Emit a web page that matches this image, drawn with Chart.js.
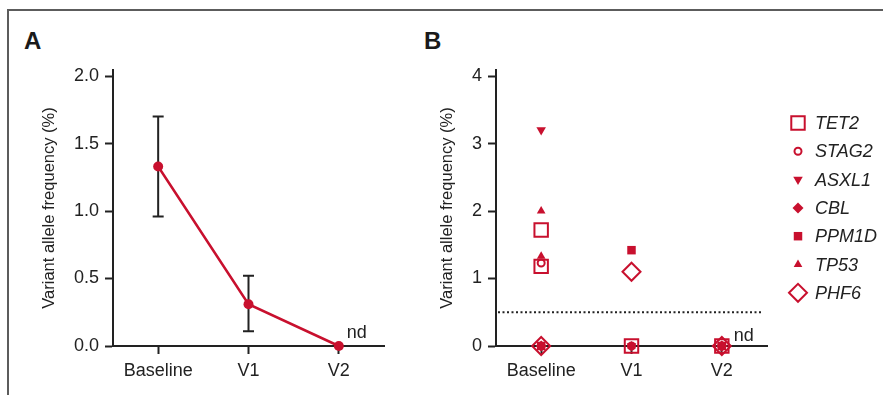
<!DOCTYPE html>
<html>
<head>
<meta charset="utf-8">
<script src="https://cdn.jsdelivr.net/npm/chart.js@4"></script>
<style>
  body { margin: 0; background: #fff; width: 883px; height: 395px; overflow: hidden; position: relative; font-family: "Liberation Sans", Arial, sans-serif; }
  .frame { position: absolute; left: 7px; top: 9px; width: 900px; height: 400px; border-top: 2px solid #5c5c5c; border-left: 2px solid #5c5c5c; }
  .letter { position: absolute; font-weight: bold; font-size: 24px; color: #1a1a1a; }
  canvas { position: absolute; top: 0; }
</style>
</head>
<body>
<div class="frame"></div>
<div class="letter" style="left:24px; top:27px;">A</div>
<div class="letter" style="left:424px; top:27px;">B</div>
<canvas id="chartA" width="420" height="395" style="left:0"></canvas>
<canvas id="chartB" width="463" height="395" style="left:420px"></canvas>
<script>
// ===================
// Dados
// ===================
const timepoints = ["Baseline", "V1", "V2"];

// Painel A: média da VAF com barras de erro
const meanVaf = [1.33, 0.31, 0];
const errLow = [0.96, 0.11, null];
const errHigh = [1.7, 0.52, null];
const ticksA = [0, 0.5, 1, 1.5, 2];

// Painel B: VAF por gene (uma lista por timepoint, pode ter mais de um valor)
const geneNames = ["TET2", "STAG2", "ASXL1", "CBL", "PPM1D", "TP53", "PHF6"];
const tet2 = [[1.72, 1.18], [0], [0]];
const stag2 = [[1.23], [0], [0]];
const asxl1 = [[3.2], [0], [0]];
const cbl = [[0], [], [0]];
const ppm1d = [[0], [1.42], [0]];
const tp53 = [[2.0, 1.33], [0], [0]];
const phf6 = [[0], [1.1], [0]];
const geneValues = [tet2, stag2, asxl1, cbl, ppm1d, tp53, phf6];
const ticksB = [0, 1, 2, 3, 4];
const threshold = 0.5;

// ===================
// Estilos
// ===================
const RED = "#c8102e";
const INK = "#222";
const FONT = "'Liberation Sans', Arial, sans-serif";

const geneStyles = [
  { pointStyle: "rect", radius: 9.5, filled: false, rotation: 0 },
  { pointStyle: "circle", radius: 3.5, filled: false, rotation: 0 },
  { pointStyle: "triangle", radius: 5.5, filled: true, rotation: 180 },
  { pointStyle: "rectRot", radius: 5.5, filled: true, rotation: 0 },
  { pointStyle: "rect", radius: 6, filled: true, rotation: 0 },
  { pointStyle: "triangle", radius: 5, filled: true, rotation: 0 },
  { pointStyle: "rectRot", radius: 9, filled: false, rotation: 0 },
];

function axisOptions(ticks, decimals, fitWidth) {
  return {
    x: {
      type: "category",
      offset: true,
      grid: { offset: false, drawOnChartArea: false, drawTicks: true, tickLength: 8, tickColor: INK, tickWidth: 2 },
      border: { display: true, color: INK, width: 2 },
      ticks: { color: INK, font: { family: FONT, size: 18 }, padding: 6, maxRotation: 0 },
      afterFit: (s) => { s.height = 49; },
    },
    y: {
      min: 0,
      max: ticks[ticks.length - 1] * 1.0225,
      grid: { drawOnChartArea: false, drawTicks: true, tickLength: 8, tickColor: INK, tickWidth: 2 },
      border: { display: true, color: INK, width: 2 },
      ticks: {
        color: INK,
        font: { family: FONT, size: 18 },
        padding: 6,
        callback: (v) => v.toFixed(decimals),
      },
      afterBuildTicks: (s) => { s.ticks = ticks.map((v) => ({ value: v })); },
      title: {
        display: true,
        text: "Variant allele frequency (%)",
        color: INK,
        font: { family: FONT, size: 16.5 },
      },
      afterFit: (s) => { s.width = fitWidth; },
    },
  };
}

// "nd" ao lado do ponto V2
function ndLabel(dx, dy) {
  return {
    id: "ndLabel",
    afterDatasetsDraw(chart) {
      const ctx = chart.ctx;
      const x = chart.scales.x.getPixelForValue(2);
      const y = chart.scales.y.getPixelForValue(0);
      ctx.save();
      ctx.fillStyle = INK;
      ctx.font = "18px " + FONT;
      ctx.textBaseline = "alphabetic";
      ctx.fillText("nd", x + dx, y - dy);
      ctx.restore();
    },
  };
}

// ===================
// Painel A
// ===================
const errorBars = {
  id: "errorBars",
  beforeDatasetsDraw(chart) {
    const ctx = chart.ctx;
    const xs = chart.scales.x, ys = chart.scales.y;
    ctx.save();
    ctx.strokeStyle = INK;
    ctx.lineWidth = 2;
    errLow.forEach((lo, i) => {
      if (lo === null) return;
      const x = xs.getPixelForValue(i);
      const y1 = ys.getPixelForValue(lo);
      const y2 = ys.getPixelForValue(errHigh[i]);
      ctx.beginPath();
      ctx.moveTo(x, y1); ctx.lineTo(x, y2);
      ctx.moveTo(x - 5.5, y1); ctx.lineTo(x + 5.5, y1);
      ctx.moveTo(x - 5.5, y2); ctx.lineTo(x + 5.5, y2);
      ctx.stroke();
    });
    ctx.restore();
  },
};

new Chart(document.getElementById("chartA"), {
  type: "line",
  data: {
    labels: timepoints,
    datasets: [
      {
        label: "VAF",
        data: meanVaf,
        borderColor: RED,
        backgroundColor: RED,
        borderWidth: 2.5,
        pointRadius: 5,
        pointBorderWidth: 0,
        clip: false,
      },
    ],
  },
  options: {
    responsive: false,
    animation: false,
    layout: { padding: { left: 36, top: 70, right: 36, bottom: 0 } },
    plugins: { legend: { display: false }, tooltip: { enabled: false } },
    scales: axisOptions(ticksA, 1, 77),
  },
  plugins: [errorBars, ndLabel(8, 8)],
});

// ===================
// Painel B
// ===================
const geneDatasets = geneNames.map((name, g) => {
  const st = geneStyles[g];
  const points = [];
  geneValues[g].forEach((vals, t) => {
    vals.forEach((v) => points.push({ x: timepoints[t], y: v }));
  });
  return {
    label: name,
    data: points,
    showLine: false,
    clip: false,
    pointStyle: st.pointStyle,
    pointRadius: st.radius,
    pointRotation: st.rotation,
    pointBorderWidth: st.filled ? 0 : 2,
    borderColor: RED,
    pointBorderColor: RED,
    pointBackgroundColor: st.filled ? RED : "rgba(0,0,0,0)",
  };
});

const thresholdLine = {
  id: "thresholdLine",
  beforeDatasetsDraw(chart) {
    const { ctx, chartArea } = chart;
    const y = chart.scales.y.getPixelForValue(threshold);
    ctx.save();
    ctx.strokeStyle = INK;
    ctx.lineWidth = 2;
    ctx.setLineDash([2, 2.5]);
    ctx.beginPath();
    ctx.moveTo(chartArea.left + 2, y);
    ctx.lineTo(chartArea.right - 6, y);
    ctx.stroke();
    ctx.restore();
  },
};

// legenda manual: tamanhos diferentes de marcador como no original
const geneLegend = {
  id: "geneLegend",
  afterDraw(chart) {
    const ctx = chart.ctx;
    const x0 = 378, textX = 395, y0 = 123, step = 28.3;
    chart.data.datasets.forEach((ds, i) => {
      const y = y0 + i * step;
      ctx.save();
      ctx.strokeStyle = RED;
      ctx.fillStyle = ds.pointBackgroundColor;
      ctx.lineWidth = ds.pointBorderWidth;
      Chart.helpers.drawPoint(ctx, {
        pointStyle: ds.pointStyle,
        radius: ds.pointRadius,
        rotation: ds.pointRotation,
        borderWidth: ds.pointBorderWidth,
      }, x0, y);
      ctx.fillStyle = INK;
      ctx.font = "italic 18px " + FONT;
      ctx.textBaseline = "middle";
      ctx.fillText(ds.label, textX, y + 1);
      ctx.restore();
    });
  },
};

new Chart(document.getElementById("chartB"), {
  type: "line",
  data: { labels: timepoints, datasets: geneDatasets },
  options: {
    responsive: false,
    animation: false,
    layout: { padding: { left: 14, top: 70, right: 116, bottom: 0 } },
    plugins: { legend: { display: false }, tooltip: { enabled: false } },
    scales: axisOptions(ticksB, 0, 62),
  },
  plugins: [thresholdLine, ndLabel(12, 5), geneLegend],
});
</script>
</body>
</html>
